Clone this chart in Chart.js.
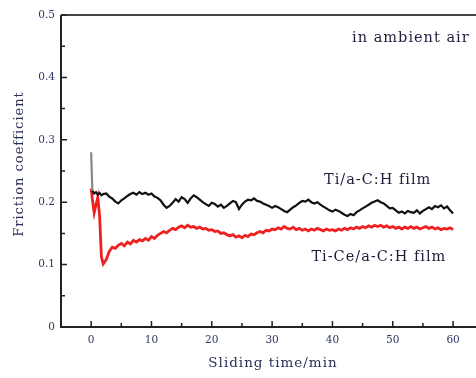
<!DOCTYPE html>
<html>
<head>
<meta charset="utf-8">
<script src="https://cdn.jsdelivr.net/npm/chart.js@4/dist/chart.umd.min.js"></script>
<style>
  html, body { margin: 0; padding: 0; background: #fff; }
  #wrap { width: 476px; height: 378px; position: relative; }
</style>
</head>
<body>
<div id="wrap"><canvas id="fcChart"></canvas></div>
<script>
// sliding time (min)
const times = [0, 0.2, 0.5, 0.8, 1.1, 1.4, 1.7, 2,
  2.5, 3, 3.5, 4, 4.5, 5, 5.5, 6, 6.5, 7, 7.5, 8, 8.5, 9, 9.5, 10,
  10.5, 11, 11.5, 12, 12.5, 13, 13.5, 14, 14.5, 15, 15.5, 16, 16.5, 17, 17.5, 18,
  18.5, 19, 19.5, 20, 20.5, 21, 21.5, 22, 22.5, 23, 23.5, 24, 24.5, 25, 25.5, 26,
  26.5, 27, 27.5, 28, 28.5, 29, 29.5, 30, 30.5, 31, 31.5, 32, 32.5, 33, 33.5, 34,
  34.5, 35, 35.5, 36, 36.5, 37, 37.5, 38, 38.5, 39, 39.5, 40, 40.5, 41, 41.5, 42,
  42.5, 43, 43.5, 44, 44.5, 45, 45.5, 46, 46.5, 47, 47.5, 48, 48.5, 49, 49.5, 50,
  50.5, 51, 51.5, 52, 52.5, 53, 53.5, 54, 54.5, 55, 55.5, 56, 56.5, 57, 57.5, 58,
  58.5, 59, 59.5, 60];

// Ti/a-C:H film
const tiFilm = [0.280, 0.218, 0.214, 0.216, 0.212, 0.215, 0.211, 0.213,
  0.214, 0.209, 0.206, 0.201, 0.198, 0.203, 0.206, 0.210, 0.213, 0.215, 0.212, 0.216, 0.213, 0.215, 0.212, 0.214,
  0.209, 0.207, 0.203, 0.196, 0.191, 0.194, 0.199, 0.205, 0.201, 0.208, 0.205, 0.199, 0.206, 0.211, 0.208, 0.204,
  0.200, 0.197, 0.194, 0.199, 0.197, 0.193, 0.196, 0.191, 0.194, 0.198, 0.202, 0.200, 0.189, 0.196, 0.201, 0.204,
  0.203, 0.206, 0.202, 0.201, 0.198, 0.196, 0.194, 0.191, 0.194, 0.192, 0.189, 0.186, 0.184, 0.188, 0.192, 0.195,
  0.199, 0.202, 0.201, 0.204, 0.200, 0.198, 0.200, 0.196, 0.193, 0.190, 0.187, 0.185, 0.188, 0.186, 0.183, 0.180,
  0.178, 0.181, 0.179, 0.184, 0.187, 0.190, 0.193, 0.196, 0.199, 0.201, 0.203, 0.200, 0.198, 0.194, 0.190, 0.191,
  0.187, 0.183, 0.185, 0.182, 0.186, 0.184, 0.183, 0.187, 0.182, 0.186, 0.189, 0.192, 0.189, 0.194, 0.192, 0.195,
  0.190, 0.193, 0.187, 0.182];

// Ti-Ce/a-C:H film
const tiCeFilm = [0.222, 0.205, 0.183, 0.196, 0.208, 0.178, 0.112, 0.101,
  0.108, 0.121, 0.128, 0.126, 0.131, 0.134, 0.130, 0.136, 0.133, 0.139, 0.136, 0.140, 0.138, 0.142, 0.139, 0.145,
  0.142, 0.147, 0.150, 0.153, 0.151, 0.155, 0.158, 0.156, 0.160, 0.162, 0.159, 0.163, 0.160, 0.161, 0.158, 0.160,
  0.157, 0.158, 0.155, 0.156, 0.153, 0.154, 0.150, 0.151, 0.148, 0.146, 0.148, 0.144, 0.146, 0.143, 0.147, 0.145,
  0.149, 0.148, 0.151, 0.153, 0.151, 0.155, 0.154, 0.157, 0.156, 0.159, 0.157, 0.161, 0.158, 0.157, 0.160, 0.156,
  0.158, 0.155, 0.157, 0.154, 0.157, 0.155, 0.158, 0.156, 0.154, 0.157, 0.155, 0.156, 0.154, 0.157, 0.155, 0.158,
  0.156, 0.159, 0.157, 0.160, 0.158, 0.161, 0.159, 0.162, 0.160, 0.163, 0.161, 0.163, 0.160, 0.162, 0.159, 0.161,
  0.158, 0.160, 0.157, 0.160, 0.158, 0.161, 0.158, 0.160, 0.157, 0.159, 0.161, 0.158, 0.160, 0.157, 0.159, 0.156,
  0.158, 0.157, 0.159, 0.156];

const xTicks = [0, 10, 20, 30, 40, 50, 60];
const xMinorTicks = [5, 15, 25, 35, 45, 55];
const yTicks = [0, 0.1, 0.2, 0.3, 0.4, 0.5];
const yMinorTicks = [0.05, 0.15, 0.25, 0.35, 0.45];

const serif = '"DejaVu Serif", "Liberation Serif", serif';
const labelColor = '#2f3760';

const toPoints = vals => vals.map((v, i) => ({ x: times[i], y: v }));

// axes frame, inward ticks, titles and film labels
const framePlugin = {
  id: 'frame',
  afterDraw(chart) {
    const c = chart.ctx;
    const a = chart.chartArea;
    const xs = chart.scales.x;
    const ys = chart.scales.y;
    c.save();
    c.strokeStyle = '#222';
    c.lineWidth = 2;
    c.beginPath();
    c.moveTo(a.left, a.top);
    c.lineTo(a.left, a.bottom);
    c.lineTo(a.right, a.bottom);
    c.stroke();
    c.strokeStyle = '#444';
    c.beginPath();
    c.moveTo(a.left, a.top);
    c.lineTo(a.right, a.top);
    c.stroke();

    c.strokeStyle = '#222';
    c.lineWidth = 1.5;
    c.beginPath();
    xTicks.forEach(t => { const p = xs.getPixelForValue(t); c.moveTo(p, a.bottom); c.lineTo(p, a.bottom - 6); });
    xMinorTicks.forEach(t => { const p = xs.getPixelForValue(t); c.moveTo(p, a.bottom); c.lineTo(p, a.bottom - 4); });
    yTicks.forEach(t => { const p = ys.getPixelForValue(t); c.moveTo(a.left, p); c.lineTo(a.left + 6, p); });
    yMinorTicks.forEach(t => { const p = ys.getPixelForValue(t); c.moveTo(a.left, p); c.lineTo(a.left + 4, p); });
    c.stroke();

    c.fillStyle = '#2a3058';
    c.textAlign = 'center';
    c.textBaseline = 'middle';
    c.letterSpacing = '1px';
    c.font = '13.5px ' + serif;
    c.fillText('Sliding time/min', 273, 363);
    c.font = '13px ' + serif;
    c.save();
    c.translate(20, 164);
    c.rotate(-Math.PI / 2);
    c.fillText('Friction coefficient', 0, 0);
    c.restore();

    c.fillStyle = '#1e1e3a';
    c.font = '14.5px ' + serif;
    c.fillText('in ambient air', xs.getPixelForValue(53), ys.getPixelForValue(0.463));
    c.fillText('Ti/a-C:H film', xs.getPixelForValue(47.5), ys.getPixelForValue(0.236));
    c.fillText('Ti-Ce/a-C:H film', xs.getPixelForValue(47.7), ys.getPixelForValue(0.112));
    c.restore();
  }
};

new Chart(document.getElementById('fcChart'), {
  type: 'line',
  data: {
    datasets: [
      {
        label: 'Ti/a-C:H film',
        data: toPoints(tiFilm),
        borderColor: '#111',
        borderWidth: 2.2,
        pointRadius: 0,
        tension: 0,
        segment: {
          borderColor: ctx => ctx.p0DataIndex === 0 ? '#888' : '#111'
        }
      },
      {
        label: 'Ti-Ce/a-C:H film',
        data: toPoints(tiCeFilm),
        borderColor: '#ee2020',
        borderWidth: 2.8,
        pointRadius: 0,
        tension: 0
      }
    ]
  },
  options: {
    responsive: true,
    maintainAspectRatio: false,
    animation: false,
    layout: { padding: { top: 15, right: 0, left: 0, bottom: 0 } },
    plugins: {
      legend: { display: false },
      tooltip: { enabled: false }
    },
    scales: {
      x: {
        type: 'linear',
        min: -5,
        max: 63.8,
        afterFit(scale) { scale.height = 51; },
        afterBuildTicks(scale) { scale.ticks = xTicks.map(v => ({ value: v })); },
        grid: { display: false, drawTicks: false },
        border: { display: false },
        ticks: {
          color: labelColor,
          font: { family: serif, size: 10.5 },
          padding: 7,
          maxRotation: 0
        }
      },
      y: {
        min: 0,
        max: 0.5,
        afterFit(scale) { scale.width = 61; },
        afterBuildTicks(scale) { scale.ticks = yTicks.map(v => ({ value: v })); },
        grid: { display: false, drawTicks: false },
        border: { display: false },
        ticks: {
          color: labelColor,
          font: { family: serif, size: 10.5 },
          padding: 6,
          callback: v => v === 0 ? '0' : v.toFixed(1)
        }
      }
    }
  },
  plugins: [framePlugin]
});
</script>
</body>
</html>
